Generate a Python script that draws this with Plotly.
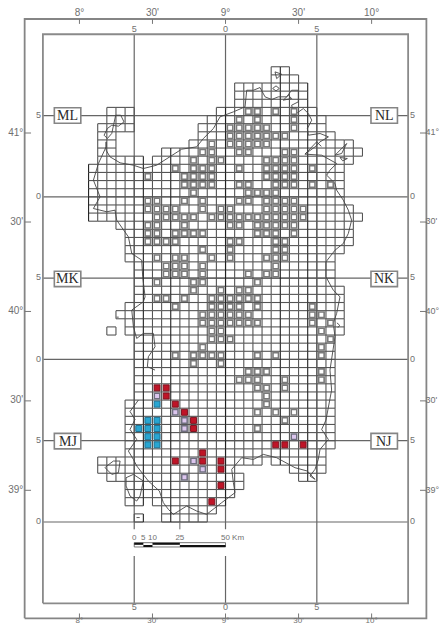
import plotly.graph_objects as go

# ---- map extents, in grid cells (1 cell = 5 km) ----
INNER_X = [-20, 20]
INNER_Y = [-10, 60]
OUTER_X = [-22, 22]
OUTER_Y = [-11.85, 61.87]
VIEW_X = [-24.7, 23.49]
VIEW_Y = [-12.79, 64.21]

# ---- occupied grid cells: row -> spans of columns ----
ROW_SPANS = {
    55: [(5, 7)], 54: [(5, 8)], 53: [(1, 9)], 52: [(1, 9)], 51: [(1, 9)],
    50: [(-13, -10), (-1, 10)], 49: [(-13, -10), (-2, 11)],
    48: [(-14, -10), (-3, 11)], 47: [(-14, -12), (-3, 12)],
    46: [(-14, -12), (-4, 14)], 45: [(-14, -12), (-7, 15)],
    44: [(-14, -9), (-8, 14)], 43: [(-15, 13)], 42: [(-15, 13)], 41: [(-15, 13)],
    40: [(-15, 13)], 39: [(-15, 13)], 38: [(-15, 14)], 37: [(-15, 15)],
    36: [(-12, 14)], 35: [(-11, 14)], 34: [(-11, 14)], 33: [(-11, 13)],
    32: [(-11, 12)], 31: [(-10, 12)], 30: [(-10, 12)], 29: [(-10, 12)],
    28: [(-10, 13)], 27: [(-10, 13)], 26: [(-11, 13)], 25: [(-12, 13)],
    24: [(-11, 13)], 23: [(-13, -12), (-11, 13)], 22: [(-10, 12)], 21: [(-10, 12)],
    20: [(-10, 12)], 19: [(-10, 12)], 18: [(-10, 12)], 17: [(-10, 12)],
    16: [(-10, 12)], 15: [(-10, 12)], 14: [(-11, 12)], 13: [(-11, 12)],
    12: [(-11, 12)], 11: [(-11, 12)], 10: [(-11, 12)], 9: [(-11, 12)],
    8: [(-11, 11)], 7: [(-14, 4), (5, 11)], 6: [(-14, 1), (7, 11)],
    5: [(-13, 2), (8, 10)], 4: [(-11, 2)], 3: [(-11, 1)],
    2: [(-11, -9), (-8, 0)], 1: [(-7, -1)], 0: [(-10, -9), (-7, -2)],
}
DARK_COLUMNS = [-15, -9, -6, 0, 6, 9]

# ---- recorded cells: row -> columns ----
SAMPLED = {
    50: [2, 3, 5, 7], 49: [1, 3, 7], 48: [0, 1, 2, 3, 4, 7],
    47: [0, 1, 2, 3, 4, 5, 6], 46: [-2, 0, 1, 2, 3, 4], 45: [-3, -2, 1, 2, 6, 7],
    44: [-4, -2, -1, 4, 5, 6, 7], 43: [-6, -4, -3, -2, 1, 4, 5, 6, 7, 9],
    42: [-9, -5, -4, -3, -2, 4, 5, 6, 7], 41: [-5, -4, -3, -2, 1, 2, 5, 6, 7, 9, 11],
    40: [-4, 2, 3, 4, 5], 39: [-9, -8, -5, -3, 1, 2, 4, 5, 6, 7],
    38: [-9, -8, -7, -6, -3, -1, 0, 4, 5, 6, 7, 8],
    37: [-8, -7, -6, -5, -4, -2, -1, 0, 1, 2, 3, 4, 5, 6, 7, 8],
    36: [-9, -8, -5, 0, 1, 3, 4, 5, 6, 7], 35: [-9, -8, -6, -5, -4, -3, 3, 4, 5, 7],
    34: [-9, -8, -7, -6, 0, 1, 5, 6], 33: [-3, 0, 5, 6], 32: [-8, -6, -5, -2, 0, 4, 5, 6],
    31: [-7, -6, -5, -3, 5], 30: [-7, -6, -5, -3, 2, 4, 5], 29: [-8, -4, -3, 3],
    28: [-4, -1, 1, 2], 27: [-8, -7, -5, -2, -1, 0, 1, 2, 3], 26: [-6, -2, -1, 0, 1, 3, 9],
    25: [-3, -2, -1, 0, 1, 2, 9, 10], 24: [-3, -2, -1, 0, 1, 2, 3, 9, 11], 23: [-2, -1, 10],
    22: [-2, -1, 0, 11], 21: [-3, 10], 20: [-6, -4, -3, -2, -1, 3, 5, 10], 19: [-4, -1],
    18: [2, 3, 4, 10], 17: [1, 2, 3, 6, 10], 16: [3, 4, 6], 15: [4], 14: [4],
    13: [3, 5, 7], 12: [6], 11: [3],
}
RED = {16: [-8, -7], 15: [-7], 14: [-6], 13: [-5], 12: [-4], 11: [-4], 9: [5, 6, 8],
       8: [-3], 7: [-6, -3, -1], 6: [-1], 4: [-1], 2: [-2]}
LILAC = {15: [-8], 13: [-6], 12: [-5], 11: [-5], 10: [7], 7: [-4], 6: [-3], 5: [-5]}
BLUE = {14: [-8], 12: [-9, -8], 11: [-10, -9, -8], 10: [-9, -8], 9: [-9, -8]}

# ---- coastline, in grid cells ----
COAST_X = [-13.08, -13.08, -12.65, -11.55, -10.09, -9.0, -7.54, -6.08, -4.8, -3.16, -2.43, -1.33, -0.6,
           0.86, 2.14, 2.32, 3.05, 3.78, 4.33, 5.05, 5.78, 6.7, 7.24, 7.97, 7.97, 7.24, 7.5, 8.52, 9.07,
           9.44, 8.96, 9.07, 10.35, 11.27, 10.35, 9.8, 8.7, 10.53, 11.44, 12.17, 11.44, 11.08, 11.99,
           12.17, 12.9, 13.45, 13.81, 13.45, 12.9, 11.99, 11.0, 11.0, 11.8, 12.54, 12.17, 11.8, 11.99,
           11.62, 11.44, 11.62, 11.26, 11.0, 10.53, 11.26, 10.35, 10.16, 9.8, 9.25, 9.8, 8.96, 7.61,
           6.88, 5.6, 4.14, 3.05, 1.77, 0.68, 0.86, 1.04, -0.42, -2.07, -3.16, -4.25, -5.71, -6.26,
           -6.81, -7.24, -8.45, -9.72, -10.09, -10.64, -9.73, -10.46, -9.91, -10.46, -9.54, None,
           -7.72, -8.56, -8.45, -7.72, -7.9, -9.0, -9.73, -10.09, -10.27, -9.0, -8.81, -9.07, -9.18,
           -10.27, -10.64, -11.92, -12.1, -13.01, -14.47, -13.74, -14.47, -13.92, -13.08, -13.08, None,
           -12.03, -11.48, -11.12, -11.73, -12.46, -12.94, -13.3, -12.94, -12.46, -12.03, None,
           -13.01, -12.28, -11.55, -11.73, -12.46, -13.19, -13.01, None,
           -10.89, -10.09, -9.0, -9.36, -9.73, -10.46, -10.89, -10.89, None,
           5.42, 6.15, 5.6, 5.42, None, 5.53, 5.89, 5.53, 5.16, 5.53, None,
           8.7, 9.98, 10.5, None, 11.99, 13.27, 12.72, 11.99, None, 12.54, 13.34, 12.83, 12.54, None,
           6.33, 6.88, 7.24, 6.33, None, 12.2, 12.5, 12.3, None, -11.95, -11.7, None, -9.75, -9.4]
COAST_Y = [46.76, 45.74, 44.92, 44.18, 43.89, 43.48, 43.89, 44.92, 45.86, 46.15, 47.17, 48.4, 49.84,
           50.45, 51.07, 53.11, 53.11, 53.44, 52.3, 51.97, 52.3, 52.3, 53.11, 53.11, 51.68, 51.27, 50.04,
           50.86, 50.25, 49.43, 48.4, 47.58, 47.79, 47.38, 46.76, 46.15, 45.25, 45.12, 44.5, 44.1, 43.28,
           42.66, 41.64, 40.82, 39.59, 38.36, 37.13, 35.49, 34.26, 33.44, 32.0, 30.16, 28.52, 27.7, 25.66,
           24.43, 22.79, 19.92, 18.69, 16.23, 13.77, 12.54, 11.39, 10.16, 8.93, 7.7, 6.48, 5.66, 5.25,
           6.27, 6.68, 7.09, 7.91, 8.32, 7.7, 7.91, 6.48, 4.84, 3.61, 2.38, 0.94, 1.35, 1.97, 0.94, 1.56,
           2.38, 3.81, 5.04, 6.89, 7.7, 8.73, 10.16, 11.39, 12.62, 13.59, 15.0, None,
           18.69, 19.1, 20.33, 21.56, 23.2, 23.2, 22.58, 24.02, 26.07, 27.09, 27.7, 30.16, 32.21,
           33.03, 35.08, 37.13, 38.36, 38.16, 38.56, 40.0, 42.05, 44.1, 46.15, 46.76, None,
           50.04, 50.04, 49.22, 48.69, 48.81, 48.4, 47.58, 47.17, 47.79, 50.04, None,
           6.89, 7.5, 7.5, 6.07, 5.86, 6.68, 6.89, None,
           5.45, 5.86, 5.04, 3.2, 2.58, 3.2, 4.43, 5.45, None,
           55.37, 55.08, 54.54, 55.37, None, 53.65, 53.32, 53.03, 53.32, 53.65, None,
           45.25, 46.76, 46.2, None, 45.12, 46.56, 45.33, 45.12, None, 44.84, 44.71, 44.43, 44.84, None,
           51.89, 52.5, 52.09, 51.89, None, 24.5, 24.2, 23.9, None, 25.2, 25.2, None, 0.55, 0.55]

# ---- graticule and labels ----
GRID_X = [-10, 0, 10]
GRID_Y = [0, 10, 20, 30, 40, 50]
SCALE_GAP = [-0.9, -4.18]
SCALE_MARKS = [0, 5, 10, 25, 50]
SCALE_TEXT = ["0", "5", "10", "25", "50 Km"]
SCALE_UNIT_PER_CELL = 5
SCALE_ORIGIN = -10
LON_POS = [-16, -8, 0, 8, 16]
LON_TEXT = ["8°", "30'", "9°", "30'", "10°"]
LAT_POS = [47.85, 36.9, 25.9, 14.9, 3.9]
LAT_TEXT = ["41°", "30'", "40°", "30'", "39°"]
TOP_TEXT = ["5", "0", "5"]
SIDE_TEXT = ["0", "5", "0", "5", "0", "5"]
ZONE_TEXT = ["ML", "MK", "MJ", "NL", "NK", "NJ"]
ZONE_X = [-17.3, -17.3, -17.3, 17.38, 17.38, 17.38]
ZONE_Y = [50, 29.9, 9.95, 50, 29.9, 9.95]
ZONE_HALF_W = 1.45
ZONE_HALF_H = 0.95

LABEL = "#707070"
FONT = "Liberation Sans"


def line(xs, ys, color, width):
    return go.Scatter(x=xs, y=ys, mode="lines", line=dict(color=color, width=width),
                      hoverinfo="skip", showlegend=False, connectgaps=False)


def text(xs, ys, labels, pos, size=10, color=LABEL):
    return go.Scatter(x=xs, y=ys, text=labels, mode="text", textposition=pos, cliponaxis=False,
                      textfont=dict(family=FONT, size=size, color=color), hoverinfo="skip", showlegend=False)


def cells(table, size, fill, edge, edge_w):
    xs, ys = [], []
    for r, cols in table.items():
        for c in cols:
            xs.append(c + 0.5)
            ys.append(r + 0.5)
    return go.Scatter(x=xs, y=ys, mode="markers", hoverinfo="skip", showlegend=False,
                      marker=dict(symbol="square", size=size, color=fill, line=dict(color=edge, width=edge_w)))


# unique edges of the occupied cells
occupied = {(c, r) for r, spans in ROW_SPANS.items() for a, b in spans for c in range(a, b)}
h_edges, v_edges = set(), set()
for c, r in occupied:
    h_edges |= {(c, r), (c, r + 1)}
    v_edges |= {(c, r), (c + 1, r)}

gx, gy, dx, dy = [], [], [], []
for c, r in sorted(h_edges):
    gx += [c, c + 1, None]
    gy += [r, r, None]
for c, r in sorted(v_edges):
    if c in DARK_COLUMNS:
        dx += [c, c, None]
        dy += [r, r + 1, None]
    else:
        gx += [c, c, None]
        gy += [r, r + 1, None]

# graticule
tx, ty = [], []
for x in GRID_X:
    if x < 10:
        tx += [x, x, None, x, x, None]
        ty += [INNER_Y[1], SCALE_GAP[0], None, SCALE_GAP[1], INNER_Y[0], None]
    else:
        tx += [x, x, None]
        ty += [INNER_Y[0], INNER_Y[1], None]
for y in GRID_Y:
    tx += [INNER_X[0], INNER_X[1], None]
    ty += [y, y, None]

# tick marks on the outer frame
kx, ky = [], []
for x in LON_POS:
    kx += [x, x, None, x, x, None]
    ky += [OUTER_Y[1], OUTER_Y[1] - 0.6, None, OUTER_Y[0], OUTER_Y[0] + 0.6, None]
for y in LAT_POS:
    kx += [OUTER_X[0], OUTER_X[0] + 0.7, None, OUTER_X[1], OUTER_X[1] - 0.7, None]
    ky += [y, y, None, y, y, None]

fig = go.Figure()
fig.add_trace(line(tx, ty, "#666666", 1.2))
fig.add_trace(line([OUTER_X[0], OUTER_X[1], OUTER_X[1], OUTER_X[0], OUTER_X[0]],
                   [OUTER_Y[0], OUTER_Y[0], OUTER_Y[1], OUTER_Y[1], OUTER_Y[0]], "#858585", 1.8))
fig.add_trace(line([INNER_X[0], INNER_X[1], INNER_X[1], INNER_X[0], INNER_X[0]],
                   [INNER_Y[0], INNER_Y[0], INNER_Y[1], INNER_Y[1], INNER_Y[0]], "#8a8a8a", 1.8))
fig.add_trace(line(kx, ky, "#777777", 1))
fig.add_trace(line(gx, gy, "#555555", 1.1))
fig.add_trace(line(dx, dy, "#222222", 1.1))
fig.add_trace(line(COAST_X, COAST_Y, "#454545", 0.9))
fig.add_trace(cells(SAMPLED, 5.5, "#ffffff", "#7a7a7a", 1.6))
fig.add_trace(cells(LILAC, 5.5, "#dcc6ee", "#6f6f7f", 1.5))
fig.add_trace(cells(BLUE, 6, "#28a6d2", "#1d7092", 1))
fig.add_trace(cells(RED, 6, "#bf1427", "#7c1420", 1))

# scale bar
marks = [SCALE_ORIGIN + m / SCALE_UNIT_PER_CELL for m in SCALE_MARKS]
fig.add_trace(line([marks[0], marks[-1], None, marks[0], marks[-1], None, marks[0], marks[0], None, marks[-1], marks[-1]],
                   [-2.54, -2.54, None, -3.07, -3.07, None, -2.54, -3.07, None, -2.54, -3.07], "#555555", 0.8))
fig.add_trace(line([marks[0], marks[1], None, marks[2], marks[3]], [-2.68, -2.68, None, -2.68, -2.68], "#111111", 2))
fig.add_trace(line([marks[1], marks[2], None, marks[3], marks[4]], [-2.95, -2.95, None, -2.95, -2.95], "#111111", 2))
fig.add_trace(line([marks[3], marks[3]], [0, -0.9], "#666666", 1))
fig.add_trace(text(marks[:4], [-1.93] * 4, SCALE_TEXT[:4], "middle center", 8))
fig.add_trace(text([marks[4] - 0.5], [-1.93], [SCALE_TEXT[4]], "middle right", 8))

# frame labels
fig.add_trace(text(LON_POS, [OUTER_Y[1] + 0.65] * 5, LON_TEXT, "middle center"))
fig.add_trace(text(LON_POS, [OUTER_Y[0] - 0.28] * 5, LON_TEXT, "middle center", 8))
fig.add_trace(text([OUTER_X[0] - 0.15] * 5, LAT_POS, LAT_TEXT, "middle left"))
fig.add_trace(text([OUTER_X[1] - 0.1] * 5, LAT_POS, LAT_TEXT, "middle right", 9))
fig.add_trace(text(GRID_X, [INNER_Y[1] + 0.55] * 3, TOP_TEXT, "middle center", 9))
fig.add_trace(text(GRID_X, [INNER_Y[0] - 0.6] * 3, TOP_TEXT, "middle center", 9))
fig.add_trace(text([INNER_X[0] - 0.2] * 6, GRID_Y, SIDE_TEXT, "middle left", 9))
fig.add_trace(text([INNER_X[1] + 0.2] * 6, GRID_Y, SIDE_TEXT, "middle right", 9))

shapes = [dict(type="rect", layer="above", x0=x - ZONE_HALF_W, x1=x + ZONE_HALF_W,
               y0=y - ZONE_HALF_H, y1=y + ZONE_HALF_H, fillcolor="#ffffff",
               line=dict(color="#858585", width=1.6)) for x, y in zip(ZONE_X, ZONE_Y)]
annotations = [dict(x=x, y=y, text=t, showarrow=False, xanchor="center", yanchor="middle",
                    font=dict(family="Liberation Serif", size=14, color="#2a2a2a"))
               for x, y, t in zip(ZONE_X, ZONE_Y, ZONE_TEXT)]

fig.update_layout(width=440, height=626, margin=dict(l=0, r=0, t=0, b=0), showlegend=False,
                  paper_bgcolor="#ffffff", plot_bgcolor="#ffffff", shapes=shapes, annotations=annotations,
                  xaxis=dict(range=VIEW_X, visible=False, fixedrange=True),
                  yaxis=dict(range=VIEW_Y, visible=False, fixedrange=True))

fig.write_html("out.html", config={"displayModeBar": False},
               post_script="document.body.style.margin='0';document.body.style.overflow='hidden';")
